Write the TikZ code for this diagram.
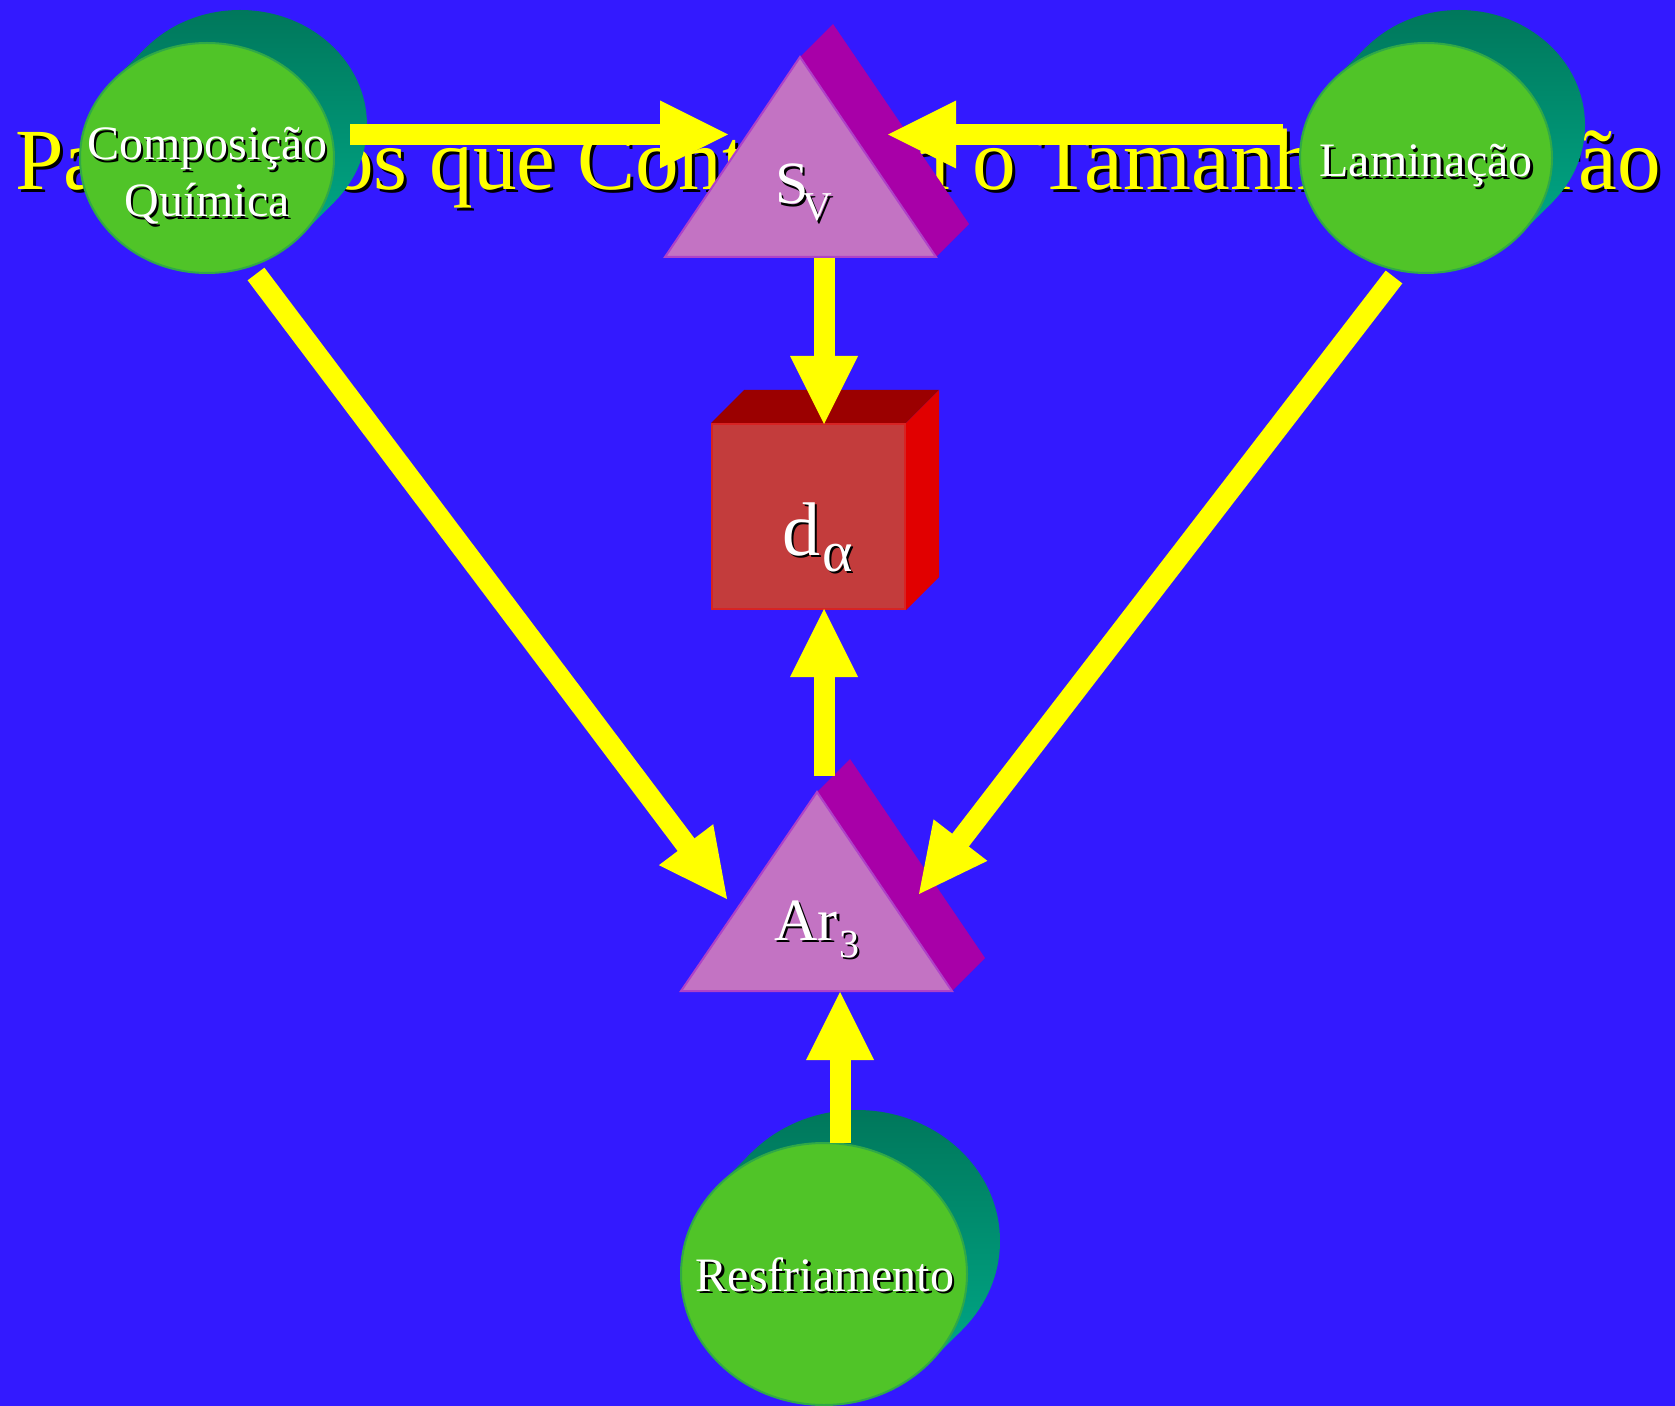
\documentclass[tikz,border=0pt]{standalone}
\usepackage{fontspec}
\setmainfont{Liberation Serif}
\usetikzlibrary{calc,shapes.geometric,fadings}
\definecolor{bgblue}{RGB}{51,25,255}
\definecolor{arrowyellow}{RGB}{255,255,0}
\definecolor{frontgreen}{RGB}{80,196,40}
\definecolor{frontbd}{RGB}{48,168,72}
\definecolor{tealdk}{RGB}{0,118,90}
\definecolor{teallt}{RGB}{0,176,142}
\definecolor{prismfront}{RGB}{195,115,195}
\definecolor{prismbd}{RGB}{175,65,200}
\definecolor{prismside}{RGB}{168,0,168}
\definecolor{cubefront}{RGB}{195,60,60}
\definecolor{cubebd}{RGB}{215,35,35}
\definecolor{cubetop}{RGB}{155,0,0}
\definecolor{cuberight}{RGB}{225,0,0}
\pgfdeclarehorizontalshading{cylfadeshade}{100bp}{color(0bp)=(white); color(80bp)=(white); color(100bp)=(black!35)}
\pgfdeclarefading{cylfade}{\pgfuseshading{cylfadeshade}}
\newcommand\shd[2][1.2pt]{\rlap{\kern#1\raisebox{-#1}{\color{black}#2}}#2}
% name, cx, cy, rx, ry, extra shade options
\newcommand\mycyl[6]{%
  \pgfmathsetmacro\cta{atan2(#5,#4)}%
  \pgfmathsetmacro\ctb{\cta+180}%
  \coordinate (#1-p1) at ($(#2,#3)+(\cta:#4 and #5)$);
  \coordinate (#1-p2) at ($(#2,#3)+(\ctb:#4 and #5)$);
  \begin{scope}
    \clip (#2+33,#3-33) ellipse [x radius=#4, y radius=#5];
    \shade[top color=tealdk,bottom color=teallt,#6] (#2-#4-5,#3-#5-40) rectangle (#2+#4+40,#3+#5+5);
  \end{scope}
  \begin{scope}
    \clip (#1-p1) -- ($(#1-p1)+(33,-33)$) -- ($(#1-p2)+(33,-33)$) -- (#1-p2) -- cycle;
    \shade[top color=tealdk,bottom color=teallt,#6] (#2-#4-5,#3-#5-40) rectangle (#2+#4+40,#3+#5+5);
  \end{scope}
  \node[ellipse, draw=frontbd, line width=1pt, fill=frontgreen, inner sep=0,
        minimum width=#4pt, minimum height=#5pt] (#1) at (#2,#3) {};
}
% name, apex x, apex y, bottom-left x, bottom-right x, base y
\newcommand\myprism[6]{%
  \coordinate (#1-apex) at (#2,#3);
  \coordinate (#1-bl) at (#4,#6);
  \coordinate (#1-br) at (#5,#6);
  \fill[prismside] (#1-apex) -- ++(33,-33) -- ($(#1-br)+(33,-33)$) -- (#1-br) -- cycle;
  \filldraw[fill=prismfront, draw=prismbd, line width=1pt, line join=miter] (#1-apex) -- (#1-bl) -- (#1-br) -- cycle;
}
\newcommand\fatarrow[2]{%
  \coordinate (hb) at ($(#2)!34pt!(#1)$);
  \draw[arrowyellow, line width=10.5pt] (#1) -- ($(#2)!30pt!(#1)$);
  \fill[arrowyellow] (#2) -- ($(hb)!17pt!90:(#2)$) -- ($(hb)!17pt!-90:(#2)$) -- cycle;
}
\begin{document}
\begin{tikzpicture}[x=0.5pt,y=-0.5pt,
  lbl/.style={inner sep=0, text=white},
  circfont/.style={font=\fontsize{24}{28}\selectfont}]
\useasboundingbox (0,0) rectangle (1675,1406);
\fill[bgblue] (0,0) rectangle (1675,1406);

% title (mostly hidden)
\node[anchor=base west, inner sep=0, text=arrowyellow, font=\fontsize{43.6}{50}\selectfont] (title) at (15,190)
  {\shd[1.5pt]{Parâmetros que Controlam o Tamanho de Grão}};

% cylinders
\mycyl{comp}{207}{158}{127}{115}{path fading=cylfade}
\mycyl{lam}{1426}{158}{126}{115}{path fading=cylfade}
\mycyl{resf}{824}{1274}{143}{131}{}

% prisms
\myprism{sv}{800}{57}{665}{936}{257}
\myprism{ar}{817}{792}{681}{952}{991}

% cube
\node[draw=cubebd, fill=cubefront, line width=1pt, inner sep=0, minimum width=96.5pt, minimum height=92.5pt] (cube) at (808.5,516.5) {};
\fill[cubetop] (cube.north west) -- ++(33,-33) -- ($(cube.north east)+(33,-33)$) -- (cube.north east) -- cycle;
\fill[cuberight] (cube.north east) -- ++(33,-33) -- ($(cube.south east)+(33,-33)$) -- (cube.south east) -- cycle;

% labels
\node[lbl, circfont, anchor=base] (tcomp1) at (207,160) {\shd{Composição}};
\node[lbl, circfont, anchor=base] (tcomp2) at (207,217) {\shd{Química}};
\node[lbl, circfont, anchor=base] (tlam) at (1426,177) {\shd{Laminação}};
\node[lbl, circfont, anchor=base] (tresf) at (825,1291) {\shd{Resfriamento}};
\node[lbl, anchor=base west, font=\fontsize{30}{34}\selectfont] (tS) at (775,204) {\shd{S}};
\node[lbl, anchor=base west, font=\fontsize{20.5}{24}\selectfont] (tV) at (802,221) {\shd{V}};
\node[lbl, anchor=base west, font=\fontsize{30}{34}\selectfont] (tAr) at (774,940) {\shd{Ar}};
\node[lbl, anchor=base west, font=\fontsize{20}{24}\selectfont] (t3) at (839,957) {\shd{3}};
\node[lbl, anchor=base west, font=\fontsize{38}{42}\selectfont] (td) at (782,555) {\shd{d}};
\node[lbl, anchor=base west, font=\fontsize{29}{32}\selectfont] (talpha) at (822,571) {\shd{α}};

% arrow end points
\coordinate (a1s) at (350,134.5);  \coordinate (a1t) at (728,134.5);
\coordinate (a2s) at (1283,134.5); \coordinate (a2t) at (888,134.5);
\coordinate (a3s) at (824,258);    \coordinate (a3t) at (824,424);
\coordinate (a4s) at (824,776);    \coordinate (a4t) at (824,609);
\coordinate (a5s) at (840,1143);   \coordinate (a5t) at (840,992);
\coordinate (a6s) at (256,274);    \coordinate (a6t) at (727,899);
\coordinate (a7s) at (1394,277);   \coordinate (a7t) at (919,894);

\fatarrow{a1s}{a1t}
\fatarrow{a2s}{a2t}
\fatarrow{a3s}{a3t}
\fatarrow{a4s}{a4t}
\fatarrow{a5s}{a5t}
\fatarrow{a6s}{a6t}
\fatarrow{a7s}{a7t}
\end{tikzpicture}
\end{document}
